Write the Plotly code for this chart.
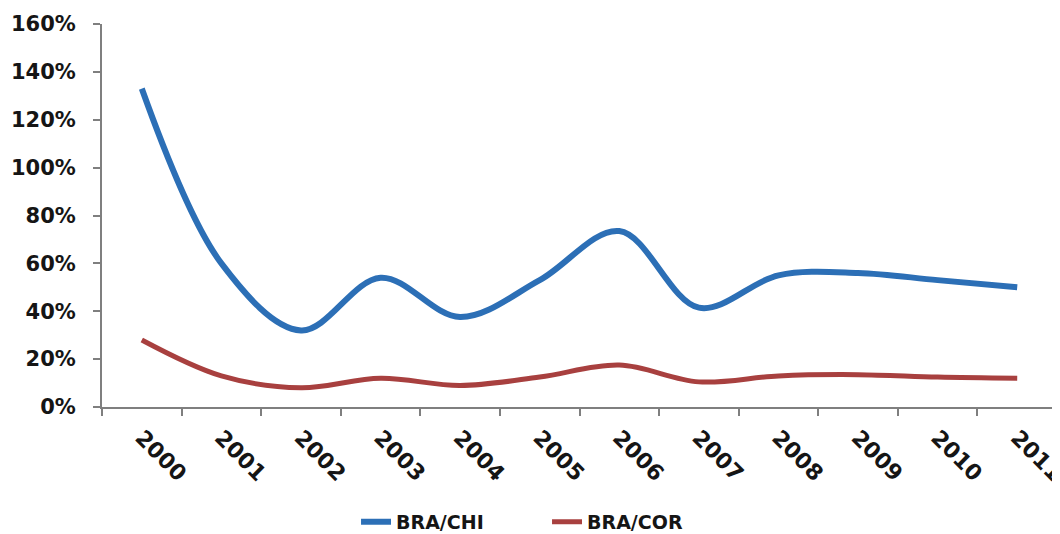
import plotly.graph_objects as go

years = ["2000", "2001", "2002", "2003", "2004", "2005", "2006", "2007", "2008", "2009", "2010", "2011"]
bra_chi = [1.33, 0.60, 0.32, 0.54, 0.376, 0.53, 0.735, 0.415, 0.55, 0.56, 0.53, 0.50]
bra_cor = [0.28, 0.13, 0.08, 0.12, 0.09, 0.125, 0.175, 0.105, 0.13, 0.135, 0.125, 0.12]
y_ticks = [0, 0.2, 0.4, 0.6, 0.8, 1.0, 1.2, 1.4, 1.6]

FONT = "DejaVu Sans"
TXT = "#151515"

fig = go.Figure()
fig.add_trace(go.Scatter(x=years, y=bra_chi, name="BRA/CHI", mode="lines",
                         line=dict(color="#2C6FB6", width=6, shape="spline", smoothing=1.0)))
fig.add_trace(go.Scatter(x=years, y=bra_cor, name="BRA/COR", mode="lines",
                         line=dict(color="#A8403F", width=5, shape="spline", smoothing=1.0)))

fig.update_layout(
    width=1052, height=545,
    margin=dict(l=94, r=3, t=16, b=146),
    paper_bgcolor="white", plot_bgcolor="white",
    font=dict(family=FONT, size=19, color=TXT, weight="bold"),
    showlegend=True,
    legend=dict(orientation="h", x=0.466, xanchor="center", y=-0.30, yanchor="middle",
                entrywidth=146, entrywidthmode="pixels",
                font=dict(family=FONT, size=19, color=TXT, weight="bold")),
    xaxis=dict(type="category", range=[-0.5, 11.5], tickson="boundaries", showline=True,
               linecolor="#7f7f7f", linewidth=2, ticks="outside", ticklen=7,
               tickcolor="#7f7f7f", tickwidth=2, automargin=False,
               tickangle=45, showgrid=False, zeroline=False, ticklabelstandoff=7,
               tickfont=dict(family=FONT, size=22, color=TXT, weight="bold")),
    yaxis=dict(range=[0, 1.6], tickvals=y_ticks, tickformat=".0%", showline=True,
               linecolor="#7f7f7f", linewidth=2, ticks="outside", ticklen=7,
               tickcolor="#7f7f7f", tickwidth=2, showgrid=False, zeroline=False,
               automargin=False, ticklabelstandoff=13,
               tickfont=dict(family=FONT, size=21, color=TXT, weight="bold")),
)

fig.write_html("out.html")
